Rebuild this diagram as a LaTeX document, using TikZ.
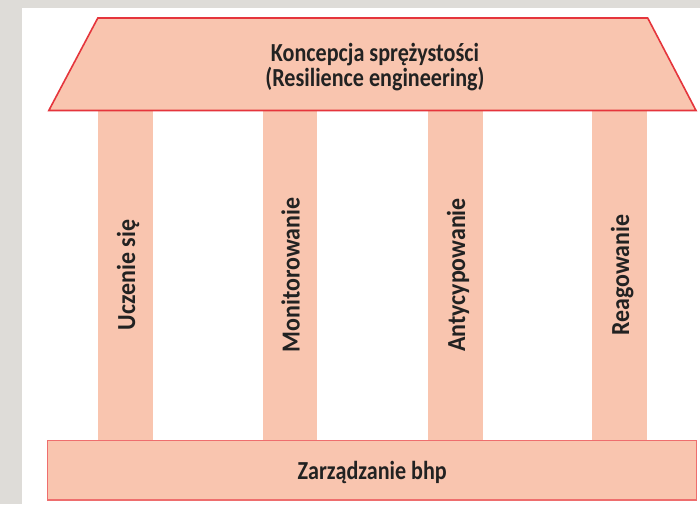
\documentclass[tikz,border=0pt]{standalone}
\usepackage{fontspec}
\setmainfont{Carlito}
\newfontfamily\condfont[FakeStretch=0.85]{Carlito}
\newfontfamily\pillarfont[FakeStretch=0.92]{Carlito}
\usepackage{tikz}

\definecolor{pillarfill}{HTML}{F9C5AF}
\definecolor{roofedge}{HTML}{E5353C}
\definecolor{baseedge}{HTML}{EE6E6E}
\definecolor{pagegray}{HTML}{DEDCD8}
\definecolor{textdark}{HTML}{222222}

\begin{document}
\begin{tikzpicture}[x=1pt, y=-1pt,
  every node/.style = {text=textdark, inner sep=0pt},
  pillar/.style = {fill=pillarfill, rotate=90,
    minimum width=330pt, minimum height=54.5pt,
    text height=19pt, text depth=0pt,
    font=\pillarfont\bfseries\fontsize{26}{26}\selectfont},
  roof/.style = {fill=pillarfill, draw=roofedge, line width=1.6pt},
  base/.style = {fill=pillarfill, draw=baseedge, line width=1.5pt,
    minimum width=649pt, minimum height=59.5pt,
    text height=18pt, text depth=0pt,
    font=\condfont\bfseries\fontsize{26}{26}\selectfont}]
  % page
  \fill[pagegray] (0,0) rectangle (700,504);
  \fill[white] (22,8) rectangle (700,504);
  % pillars
  \node[pillar] (learn)   at (125.5,275) {Uczenie się};
  \node[pillar] (monitor) at (290,275)   {Monitorowanie};
  \node[pillar] (anticip) at (455.5,275) {Antycypowanie};
  \node[pillar] (react)   at (619.5,275) {Reagowanie};
  % roof
  \draw[roof] (48.8,110.5) -- (97.8,18) -- (647.7,18) -- (696,110.5) -- cycle;
  \node[align=center, font=\condfont\bfseries\fontsize{26}{25}\selectfont]
    (concept) at (375,67) {Koncepcja sprężystości\\(Resilience engineering)};
  % base
  \node[base] (bhp) at (372.2,470.2) {Zarządzanie bhp};
\end{tikzpicture}
\end{document}
